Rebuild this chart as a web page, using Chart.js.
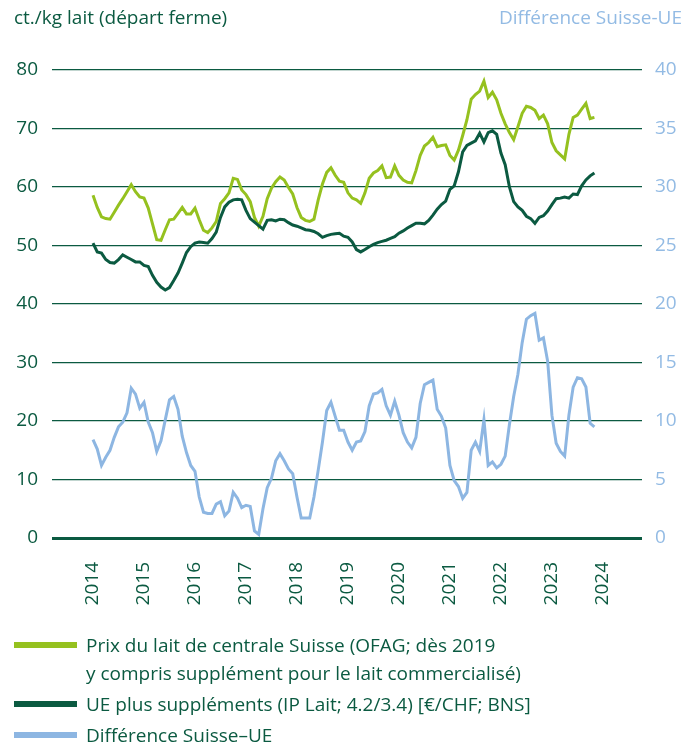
<!DOCTYPE html>
<html>
<head>
<meta charset="utf-8">
<script src="https://cdn.jsdelivr.net/npm/chart.js@4.4.1/dist/chart.umd.min.js"></script>
<style>
  body { margin: 0; background: #fff; font-family: "Open Sans", sans-serif; color: #0b5a41; }
  #wrap { position: relative; width: 696px; height: 743px; }
  canvas { position: absolute; left: 0; top: 0; }
  .lbl { position: absolute; font-size: 19px; white-space: nowrap; }
  .item { position: absolute; left: 14px; font-size: 19px; line-height: 28px; }
  .sw { position: absolute; left: 0; width: 63px; height: 6px; }
  .txt { position: absolute; left: 72px; white-space: nowrap; }
</style>
</head>
<body>
<div id="wrap">
  <canvas id="lineChart" width="696" height="743"></canvas>
  <div class="lbl" style="left:14px; top:4px;">ct./kg lait (départ ferme)</div>
  <div class="lbl" style="right:14px; top:4px; color:#93bbe4;">Différence Suisse-UE</div>

  <div class="item" style="top:631px;"><span class="sw" style="top:11px; background:#95c11f;"></span>
    <span class="txt" style="top:0;">Prix du lait de centrale Suisse (OFAG; dès 2019</span>
    <span class="txt" style="top:28px;">y compris supplément pour le lait commercialisé)</span></div>
  <div class="item" style="top:690px;"><span class="sw" style="top:11px; background:#0b5a41;"></span>
    <span class="txt" style="top:0;">UE plus suppléments (IP Lait; 4.2/3.4) [€/CHF; BNS]</span></div>
  <div class="item" style="top:721px;"><span class="sw" style="top:11px; background:#8db6e2;"></span>
    <span class="txt" style="top:0;">Différence Suisse–UE</span></div>
</div>
<script>
// years shown on the x axis (one tick every 12 months, month 0 = January 2014)
var years = ["2014","2015","2016","2017","2018","2019","2020","2021","2022","2023","2024"];
var leftTicks = [0,10,20,30,40,50,60,70,80];
var rightTicks = [0,5,10,15,20,25,30,35,40];

// monthly values, January 2014 onwards
var swissPrice = [58.6,56.5,54.9,54.6,54.5,55.7,56.9,58.0,59.2,60.4,59.2,58.3,
  58.1,56.4,53.7,51.0,50.9,52.7,54.4,54.5,55.5,56.5,55.4,55.4,
  56.4,54.4,52.6,52.2,53.0,54.1,57.2,58.0,59.0,61.5,61.3,59.5,
  58.7,57.5,54.8,53.3,55.0,58.0,59.8,60.9,61.7,61.2,59.9,58.8,
  56.5,54.8,54.3,54.1,54.5,57.8,60.5,62.5,63.3,62.0,61.0,60.8,
  59.0,58.1,57.8,57.2,59.0,61.5,62.4,62.8,63.6,61.6,61.7,63.6,
  62.0,61.2,60.8,60.7,62.8,65.4,67.0,67.6,68.5,66.9,67.1,67.2,
  65.4,64.6,66.3,68.8,71.5,75.0,75.8,76.4,78.1,75.3,76.2,74.9,
  72.6,70.8,69.3,68.1,70.3,72.6,73.8,73.6,73.1,71.7,72.3,70.8,
  67.6,66.2,65.5,64.8,69.0,71.9,72.3,73.3,74.3,71.7,71.9];

var euPrice = [50.4,48.9,48.7,47.6,47.1,47.0,47.6,48.4,48.0,47.6,47.2,47.2,
  46.6,46.4,44.9,43.7,42.9,42.4,42.8,44.0,45.3,47.0,48.8,49.8,
  50.4,50.6,50.5,50.4,51.2,52.3,54.8,56.6,57.4,57.8,57.9,57.8,
  56.0,54.6,54.0,53.4,52.8,54.3,54.4,54.2,54.5,54.4,53.9,53.5,
  53.3,53.0,52.7,52.6,52.4,52.0,51.4,51.7,51.9,52.0,52.1,51.6,
  51.4,50.6,49.3,48.9,49.3,49.8,50.2,50.5,50.7,50.9,51.2,51.5,
  52.1,52.5,53.0,53.4,53.8,53.8,53.7,54.3,55.2,56.2,57.0,57.6,
  59.6,60.2,62.6,66.0,67.1,67.5,67.9,69.2,67.7,69.3,69.6,69.0,
  65.8,63.8,60.0,57.5,56.6,56.0,55.0,54.6,53.8,54.8,55.1,55.9,
  57.0,58.0,58.1,58.3,58.1,58.8,58.7,60.2,61.2,61.9,62.4];

var difference = [8.4,7.6,6.2,6.9,7.5,8.6,9.5,9.9,10.7,12.8,12.3,11.1,
  11.6,9.9,9.0,7.4,8.3,10.1,11.8,12.1,11.0,8.7,7.3,6.2,
  5.7,3.5,2.2,2.1,2.1,2.9,3.1,1.9,2.3,3.9,3.4,2.6,
  2.8,2.7,0.6,0.3,2.5,4.3,5.1,6.6,7.2,6.6,5.9,5.5,
  3.5,1.7,1.7,1.7,3.5,5.8,8.2,10.9,11.6,10.4,9.2,9.2,
  8.2,7.5,8.2,8.3,9.1,11.3,12.3,12.4,12.7,11.3,10.5,11.7,
  10.5,9.0,8.2,7.7,8.6,11.5,13.1,13.3,13.5,11.0,10.4,9.4,
  6.2,4.9,4.4,3.4,3.9,7.5,8.2,7.4,10.1,6.2,6.5,6.0,
  6.3,7.0,9.7,12.1,14.0,16.7,18.7,19.0,19.2,16.9,17.1,15.1,
  10.5,8.1,7.4,7.0,10.5,12.9,13.7,13.6,12.9,9.8,9.5];

function toPoints(arr) {
  return arr.map(function (v, i) { return {x: i, y: v}; });
}

var darkGreen = "#0b5a41";
var lightGreen = "#95c11f";
var blue = "#8db6e2";

var lineData = {
  datasets: [
    { label: "Différence Suisse–UE", data: toPoints(difference), yAxisID: "yR",
      borderColor: blue, borderWidth: 3, pointRadius: 0, tension: 0 },
    { label: "UE plus suppléments", data: toPoints(euPrice), yAxisID: "y",
      borderColor: darkGreen, borderWidth: 3, pointRadius: 0, tension: 0 },
    { label: "Prix du lait de centrale Suisse", data: toPoints(swissPrice), yAxisID: "y",
      borderColor: lightGreen, borderWidth: 3, pointRadius: 0, tension: 0 }
  ]
};

var lineOptions = {
  responsive: false,
  animation: false,
  layout: { padding: { top: 70, left: 0, right: 0, bottom: 0 } },
  plugins: { legend: { display: false }, tooltip: { enabled: false } },
  scales: {
    x: {
      type: "linear",
      min: -9.65,
      max: 129.2,
      afterFit: function (s) { s.height = 205; },
      afterBuildTicks: function (s) {
        s.ticks = years.map(function (y, i) { return {value: i * 12}; });
      },
      ticks: {
        autoSkip: false, maxRotation: 90, minRotation: 90, padding: 24,
        color: darkGreen, font: { family: "Open Sans", size: 19 },
        callback: function (v) { return years[Math.round(v / 12)]; }
      },
      grid: { display: false, drawTicks: false },
      border: { display: false }
    },
    y: {
      position: "left",
      min: 0, max: 80,
      afterFit: function (s) { s.width = 52; },
      afterBuildTicks: function (s) {
        s.ticks = leftTicks.map(function (v) { return {value: v}; });
      },
      ticks: { padding: 14, color: darkGreen, font: { family: "Open Sans", size: 19 } },
      grid: {
        color: darkGreen, drawTicks: false,
        lineWidth: function (c) { return c.tick && c.tick.value === 0 ? 3 : 1.3; }
      },
      border: { display: false }
    },
    yR: {
      position: "right",
      min: 0, max: 40,
      afterFit: function (s) { s.width = 54; },
      afterBuildTicks: function (s) {
        s.ticks = rightTicks.map(function (v) { return {value: v}; });
      },
      ticks: { padding: 13, color: "#93bbe4", font: { family: "Open Sans", size: 19 } },
      grid: { display: false, drawTicks: false },
      border: { display: false }
    }
  }
};

var ctx = document.getElementById("lineChart").getContext("2d");
new Chart(ctx, {type: "line", data: lineData, options: lineOptions});
</script>
</body>
</html>
